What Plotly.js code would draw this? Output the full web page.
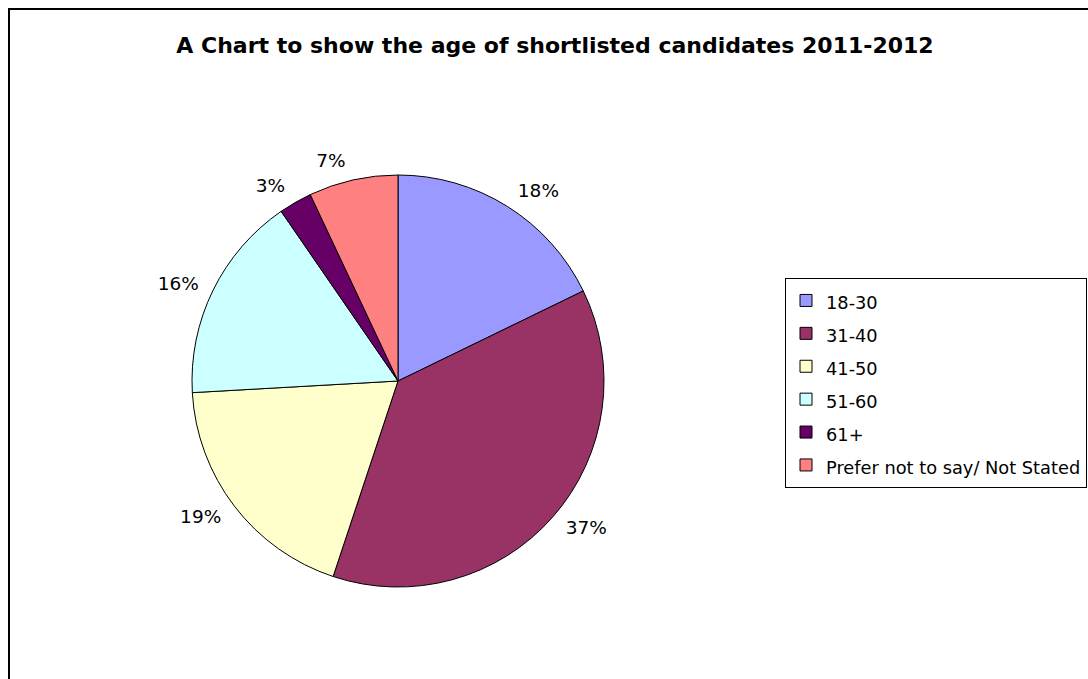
<!DOCTYPE html>
<html>
<head>
<meta charset="utf-8">
<script src="https://cdn.plot.ly/plotly-3.0.1.min.js"></script>
<style>html,body{margin:0;padding:0;background:#fff;}#chart{width:1088px;height:679px;}</style>
</head>
<body>
<div id="chart"></div>
<script>
// Data (percentage of shortlisted candidates)
const categories = ["18-30", "31-40", "41-50", "51-60", "61+", "Prefer not to say/ Not Stated"];
const values = [17.8, 37.3, 19.0, 16.3, 2.6, 7.0];
const colors = ["#9999FF", "#993366", "#FFFFCC", "#CCFFFF", "#660066", "#FF8080"];
const chartTitle = "A Chart to show the age of shortlisted candidates 2011-2012";

const FONT = 'DejaVu Sans, Liberation Sans, Arial, sans-serif';
const W = 1088, H = 679;
const cx = 398, cy = 381, R = 206, RL = 216;
function dom(r) {
  return {
    x: [(cx - r) / W, (cx + r) / W],
    y: [(H - cy - r) / H, (H - cy + r) / H]
  };
}

const legendLabels = categories.map(c => '<span style="font-size:17.8px">' + c + '</span>');

const mainPie = {
  type: 'pie',
  labels: legendLabels,
  values: values,
  sort: false,
  direction: 'clockwise',
  rotation: 0,
  marker: { colors: colors, line: { color: '#000000', width: 1 } },
  textinfo: 'none',
  hoverinfo: 'label+percent',
  domain: dom(R),
  showlegend: true
};

const labelPie = {
  type: 'pie',
  labels: legendLabels,
  values: values,
  sort: false,
  direction: 'clockwise',
  rotation: 0,
  marker: { colors: categories.map(() => 'rgba(0,0,0,0)'), line: { width: 0 } },
  textposition: 'outside',
  texttemplate: '%{percent:.0%}',
  outsidetextfont: { family: FONT, size: 18.5, color: '#000000' },
  hoverinfo: 'skip',
  domain: dom(RL),
  showlegend: false
};

const layout = {
  width: W, height: H,
  margin: { l: 0, r: 0, t: 0, b: 0 },
  paper_bgcolor: '#ffffff',
  font: { family: FONT, color: '#000000' },
  title: {
    text: chartTitle,
    font: { family: FONT, size: 22, weight: 'bold', color: '#000000' },
    x: 555 / W, xanchor: 'center', xref: 'paper',
    y: 1 - 45 / H, yanchor: 'middle', yref: 'paper'
  },
  legend: {
    x: 1087 / W, xanchor: 'right',
    y: 1 - 278 / H, yanchor: 'top',
    bgcolor: '#ffffff',
    bordercolor: '#000000',
    borderwidth: 1,
    font: { family: FONT, size: 23, color: '#000000' },
    traceorder: 'normal'
  },
  shapes: [{
    type: 'rect', xref: 'paper', yref: 'paper',
    x0: 9 / W, x1: 1.05, y0: -0.05, y1: 1 - 9 / H,
    line: { color: '#000000', width: 2 },
    fillcolor: 'rgba(0,0,0,0)',
    layer: 'above'
  }]
};

Plotly.newPlot('chart', [mainPie, labelPie], layout, { displayModeBar: false, staticPlot: true });
</script>
</body>
</html>
